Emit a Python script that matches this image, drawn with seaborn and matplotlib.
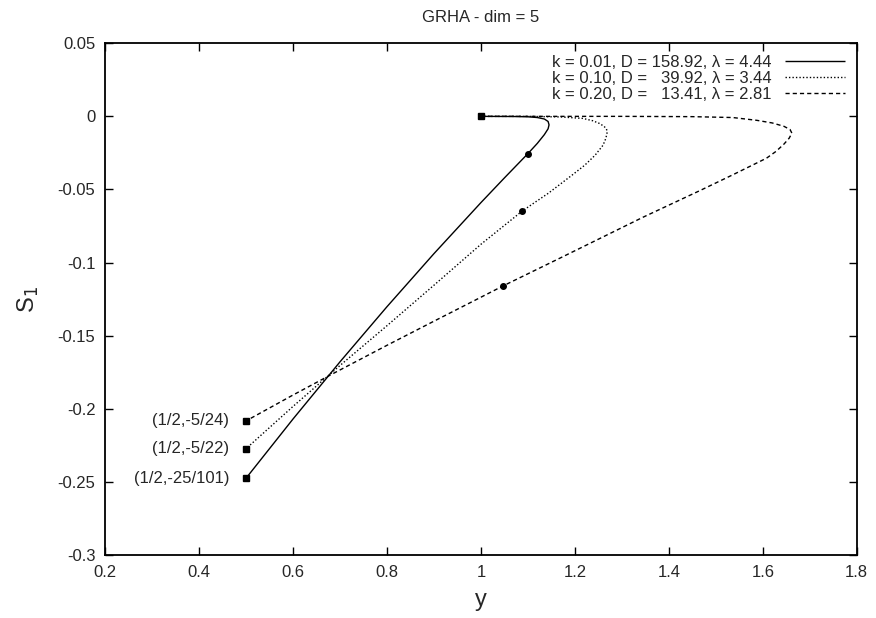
import numpy as np
import pandas as pd
import matplotlib
matplotlib.use("Agg")
import matplotlib.pyplot as plt
import seaborn as sns

# Curvas S1(y) (GRHA, dim = 5)
y_k001 = [1.0, 1.07, 1.10, 1.12, 1.135, 1.143, 1.145, 1.143, 1.135, 1.12, 1.10,
          1.05, 1.0, 0.9, 0.8, 0.7, 0.6, 0.5]
s_k001 = [0.0, -0.0001, -0.0003, -0.0008, -0.0018, -0.0035, -0.0058, -0.0085, -0.0125, -0.0185, -0.0255,
          -0.0421, -0.0590, -0.0939, -0.1302, -0.1679, -0.2070, -0.2475]

y_k010 = [1.0, 1.10, 1.17, 1.217, 1.238, 1.252, 1.262, 1.267, 1.269, 1.266, 1.260, 1.243, 1.221, 1.196,
          1.172, 1.143, 1.115, 1.087, 1.0, 0.9, 0.8, 0.7, 0.6, 0.5]
s_k010 = [0.0, 0.0, -0.0004, -0.0014, -0.0030, -0.0048, -0.0068, -0.0085, -0.0105, -0.0150, -0.0197, -0.0266, -0.0334, -0.0397,
          -0.0456, -0.0527, -0.0588, -0.0650, -0.0875, -0.1155, -0.1432, -0.1704, -0.1984, -0.2273]

y_k020 = [1.0, 1.30, 1.45, 1.536, 1.587, 1.620, 1.645, 1.658, 1.662, 1.656, 1.645, 1.628, 1.608,
          1.536, 1.466, 1.345, 1.168, 1.047, 0.9, 0.8, 0.679, 0.6, 0.5]
s_k020 = [0.0, 0.0, -0.0002, -0.0008, -0.0027, -0.0045, -0.0068, -0.0090, -0.0115, -0.0150, -0.0190, -0.0240, -0.0286,
          -0.0400, -0.0508, -0.0690, -0.0970, -0.1160, -0.1401, -0.1566, -0.1770, -0.1906, -0.2083]

etiquetas = ["k = 0.01, D = 158.92, λ = 4.44",
             "k = 0.10, D =   39.92, λ = 3.44",
             "k = 0.20, D =   13.41, λ = 2.81"]

# puntos marcados sobre cada curva
punto_y = [1.10, 1.087, 1.047]
punto_s = [-0.0255, -0.0650, -0.116]

# extremos finales y sus rotulos
fin_y = [0.5, 0.5, 0.5]
fin_s = [-25 / 101, -5 / 22, -5 / 24]
fin_txt = ["(1/2,-25/101)", "(1/2,-5/22)", "(1/2,-5/24)"]

sns.set_style("ticks")
plt.rcParams["font.family"] = ["Liberation Sans", "DejaVu Sans"]

fig = plt.figure(figsize=(8.76, 6.18), dpi=100)
ax = fig.add_axes([0.12, 0.102, 0.858, 0.828])

estilos = [(0, ()), (0, (1, 1.5)), (0, (3, 2.2))]
curvas = [(y_k001, s_k001), (y_k010, s_k010), (y_k020, s_k020)]

for (yy, ss), lab, ls in zip(curvas, etiquetas, estilos):
    df = pd.DataFrame({"y": yy, "S1": ss})
    sns.lineplot(data=df, x="y", y="S1", sort=False, estimator=None,
                 color="black", lw=1.0, linestyle=ls, label=lab, ax=ax)

# cuadrado inicial en (1, 0) y cuadrados finales
ax.plot([1.0], [0.0], "s", color="black", ms=4.5)
ax.plot(fin_y, fin_s, "s", color="black", ms=4.5, ls="none")
ax.plot(punto_y, punto_s, "o", color="black", ms=4, ls="none")

for yv, sv, t in zip(fin_y, fin_s, fin_txt):
    ax.annotate(t, (yv, sv), xytext=(-12, 0), textcoords="offset points",
                ha="right", va="center", fontsize=12)

ax.set_xlim(0.2, 1.8)
ax.set_ylim(-0.3, 0.05)
ax.set_xticks(np.arange(0.2, 1.81, 0.2))
ax.set_xticklabels(["0.2", "0.4", "0.6", "0.8", "1", "1.2", "1.4", "1.6", "1.8"])
ax.set_yticks(np.arange(-0.3, 0.051, 0.05))
ax.set_yticklabels(["-0.3", "-0.25", "-0.2", "-0.15", "-0.1", "-0.05", "0", "0.05"])
ax.tick_params(direction="in", length=6, width=1, top=True, right=True,
               labelsize=12, pad=7, color="black")
for sp in ax.spines.values():
    sp.set_linewidth(1.3)
    sp.set_color("black")

ax.set_xlabel("y", fontsize=17, labelpad=7)
ax.set_ylabel("S$_1$", fontsize=17, labelpad=12)
ax.set_title("GRHA - dim = 5", fontsize=12, pad=15)

ax.legend(loc="upper right", frameon=False, markerfirst=False, fontsize=12,
          handlelength=3.6, labelspacing=0.05, borderaxespad=0.3,
          handletextpad=0.8)

fig.savefig("out.png", dpi=100)
